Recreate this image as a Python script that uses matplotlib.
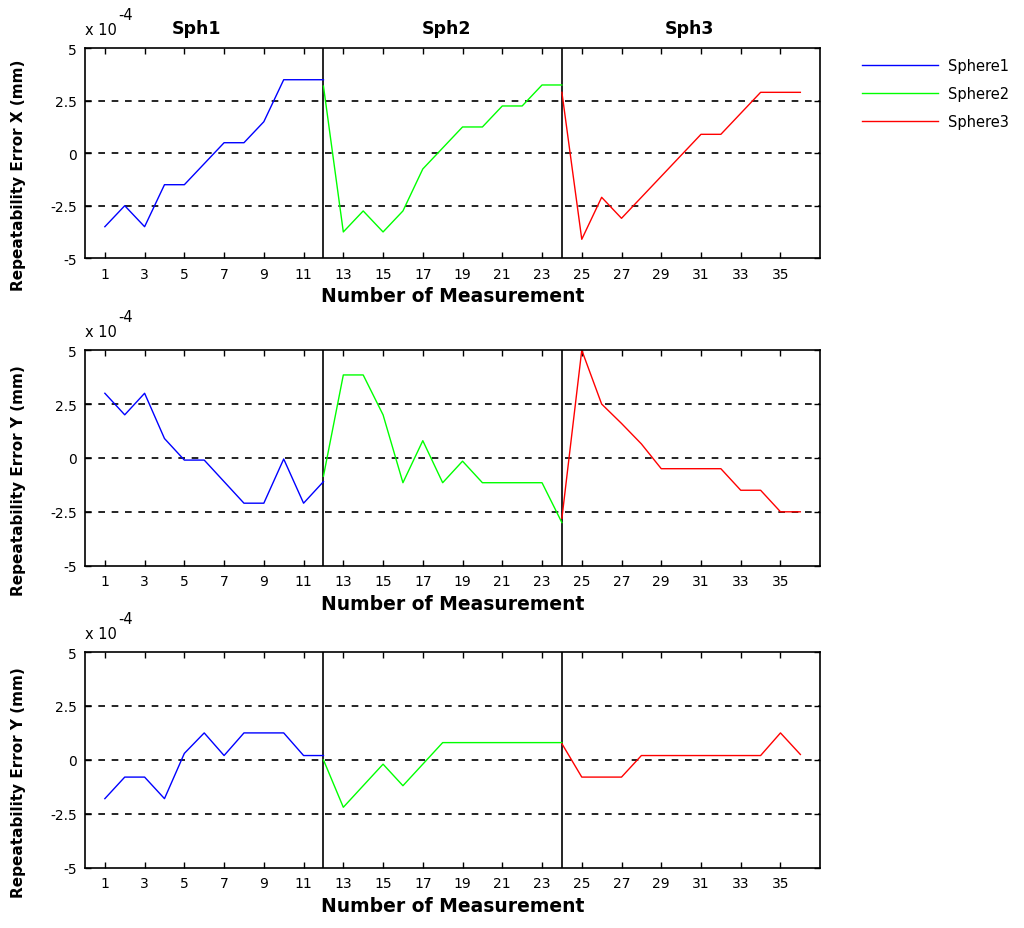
import matplotlib
matplotlib.use('Agg')
import matplotlib.pyplot as plt

plt.rcParams['font.family'] = ['DejaVu Sans']

# measurement index for each sphere
x_sph1 = list(range(1, 13))
x_sph2 = list(range(12, 25))
x_sph3 = list(range(24, 37))

# repeatability error X (x1e-4 mm)
ex_sph1 = [-3.5, -2.5, -3.5, -1.5, -1.5, -0.5, 0.5, 0.5, 1.5, 3.5, 3.5, 3.5]
ex_sph2 = [3.2, -3.75, -2.75, -3.75, -2.75, -0.75, 0.25, 1.25, 1.25, 2.25, 2.25, 3.25, 3.25]
ex_sph3 = [2.9, -4.1, -2.1, -3.1, -2.1, -1.1, -0.1, 0.9, 0.9, 1.9, 2.9, 2.9, 2.9]

# repeatability error Y (x1e-4 mm)
ey_sph1 = [3.0, 2.0, 3.0, 0.9, -0.1, -0.1, -1.1, -2.1, -2.1, -0.05, -2.1, -1.1]
ey_sph2 = [-0.85, 3.85, 3.85, 2.0, -1.15, 0.8, -1.15, -0.15, -1.15, -1.15, -1.15, -1.15, -3.0]
ey_sph3 = [-2.8, 5.0, 2.5, 1.6, 0.65, -0.5, -0.5, -0.5, -0.5, -1.5, -1.5, -2.5, -2.5]

# third panel (labelled Y in the original)
ez_sph1 = [-1.8, -0.8, -0.8, -1.8, 0.3, 1.25, 0.2, 1.25, 1.25, 1.25, 0.2, 0.2]
ez_sph2 = [0.0, -2.2, -1.2, -0.2, -1.2, -0.2, 0.8, 0.8, 0.8, 0.8, 0.8, 0.8, 0.8]
ez_sph3 = [0.75, -0.8, -0.8, -0.8, 0.2, 0.2, 0.2, 0.2, 0.2, 0.2, 0.2, 1.25, 0.25]

ylabels = ['Repeatability Error X (mm)', 'Repeatability Error Y (mm)', 'Repeatability Error Y (mm)']
sphere_names = ['Sphere1', 'Sphere2', 'Sphere3']
sph_titles = ['Sph1', 'Sph2', 'Sph3']
xticks = list(range(1, 37, 2))
yticks = [-5, -2.5, 0, 2.5, 5]
ytick_labels = ['-5', '-2.5', '0', '2.5', '5']

colors = ['#0000ff', '#00ff00', '#ff0000']

fig = plt.figure(figsize=(10.24, 9.29), dpi=100)

left, width = 0.083, 0.718
panel_boxes = [(0.721, 0.226), (0.390, 0.232), (0.065, 0.232)]
data = [
    (ex_sph1, ex_sph2, ex_sph3),
    (ey_sph1, ey_sph2, ey_sph3),
    (ez_sph1, ez_sph2, ez_sph3),
]

lines = []
for i, (bottom, height) in enumerate(panel_boxes):
    ax = fig.add_axes([left, bottom, width, height])
    s1, s2, s3 = data[i]
    for yv in [-2.5, 0, 2.5]:
        ax.axhline(yv, color='black', linestyle=(0, (4, 4)), linewidth=1.2, zorder=1)
    ax.axvline(12, color='black', linewidth=1.2, zorder=1)
    ax.axvline(24, color='black', linewidth=1.2, zorder=1)
    l1, = ax.plot(x_sph1, s1, color=colors[0], linewidth=1.0, zorder=2)
    l2, = ax.plot(x_sph2, s2, color=colors[1], linewidth=1.0, zorder=2)
    l3, = ax.plot(x_sph3, s3, color=colors[2], linewidth=1.0, zorder=2)
    if i == 0:
        lines = [l1, l2, l3]
        for tx, t in zip([5.6, 18.2, 30.4], sph_titles):
            ax.text(tx, 5.55, t, ha='center', va='bottom', fontsize=12.5, fontweight='bold')

    ax.set_xlim(0, 37)
    ax.set_ylim(-5, 5)
    ax.set_xticks(xticks)
    ax.set_yticks(yticks)
    ax.set_yticklabels(ytick_labels)
    ax.tick_params(direction='in', top=True, right=True, length=4.5, width=1,
                   labelsize=10, pad=6)
    for sp in ax.spines.values():
        sp.set_linewidth(1.2)
    ax.set_xlabel('Number of Measurement', fontsize=13.5, fontweight='bold', labelpad=4)
    ax.set_ylabel(ylabels[i], fontsize=11, fontweight='bold')
    ax.yaxis.set_label_coords(-0.080, 0.40)

    # MATLAB style exponent label
    ax.annotate('x 10', xy=(0, 1), xycoords='axes fraction', xytext=(0, 13.5),
                textcoords='offset points', fontsize=10.5, ha='left', va='center')
    ax.annotate('-4', xy=(0, 1), xycoords='axes fraction', xytext=(24, 24.5),
                textcoords='offset points', fontsize=10.5, ha='left', va='center')

fig.legend(lines, sphere_names, loc='upper left', bbox_to_anchor=(0.829, 0.951),
           frameon=False, fontsize=10.5, handlelength=5.2, handletextpad=0.7,
           labelspacing=0.9)

fig.savefig('out.png', dpi=100)
